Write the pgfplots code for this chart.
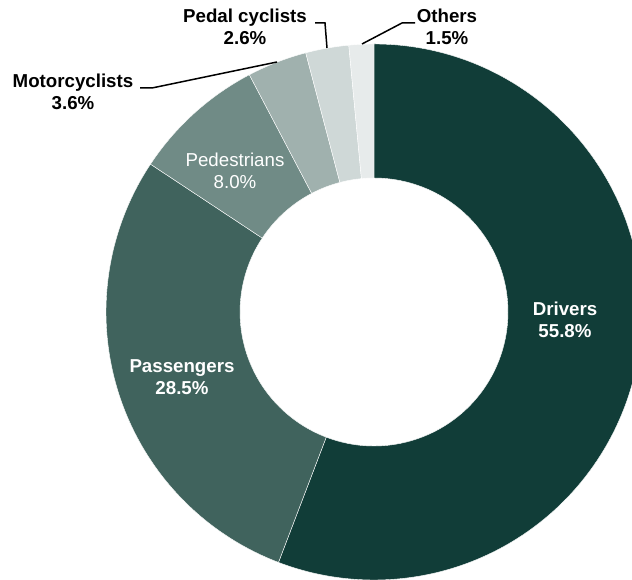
\documentclass[border=0pt]{standalone}
\usepackage{pgfplots}
\pgfplotsset{compat=1.18}
\usepackage{fontspec}
\setmainfont{Liberation Sans}
\usetikzlibrary{calc}
\definecolor{cA}{HTML}{113D38}
\definecolor{cB}{HTML}{40635D}
\definecolor{cC}{HTML}{708B86}
\definecolor{cD}{HTML}{A0B1AE}
\definecolor{cE}{HTML}{CFD8D7}
\definecolor{cF}{HTML}{E7EBEB}
% segment: #1 cumulative start %, #2 cumulative end %, #3 colour
\newcommand{\seg}[3]{%
  \filldraw[#3, draw=white, line width=0.4bp]
   ($(axis cs:374,268)+({90-3.6*#1}:268bp)$)
   arc[start angle={90-3.6*#1}, end angle={90-3.6*#2}, radius=268bp]
   -- ($(axis cs:374,268)+({90-3.6*#2}:134bp)$)
   arc[start angle={90-3.6*#2}, end angle={90-3.6*#1}, radius=134bp]
   -- cycle;}
\newcommand{\lab}[5]{% x, y(baseline first line), line1, line2, style
  \node[anchor=base,#5] at (axis cs:#1,#2) {#3};
  \node[anchor=base,#5] at (axis cs:#1,#2-22) {#4};}
\begin{document}
\begin{tikzpicture}[x=1bp,y=1bp]
\begin{axis}[
  scale only axis, width=632bp, height=580bp,
  xmin=0, xmax=632, ymin=0, ymax=580,
  hide axis, clip=true,
  font=\fontsize{18.7bp}{22bp}\selectfont]
% values (percent): Drivers 55.8, Passengers 28.5, Pedestrians 8.0,
% Motorcyclists 3.6, Pedal cyclists 2.6, Others 1.5
\seg{0}{55.8}{cA}
\seg{55.8}{84.3}{cB}
\seg{84.3}{92.3}{cC}
\seg{92.3}{95.9}{cD}
\seg{95.9}{98.5}{cE}
\seg{98.5}{100}{cF}
% leader lines
\draw[black, line width=1.5bp] (axis cs:140,492) -- (axis cs:152,492) -- (axis cs:277,518);
\draw[black, line width=1.5bp] (axis cs:315,557) -- (axis cs:325,557) -- (axis cs:327,532);
\draw[black, line width=1.5bp] (axis cs:362,536) -- (axis cs:402,557) -- (axis cs:415,557);
% labels
\lab{565}{264}{Drivers}{55.8\%}{white, font=\fontsize{18.7bp}{22bp}\selectfont\bfseries}
\lab{182}{207}{Passengers}{28.5\%}{white, font=\fontsize{18.7bp}{22bp}\selectfont\bfseries}
\lab{235}{413}{Pedestrians}{8.0\%}{white, font=\fontsize{18.7bp}{22bp}\selectfont}
\lab{73}{492}{Motorcyclists}{3.6\%}{black, font=\fontsize{18.7bp}{22bp}\selectfont\bfseries}
\lab{245}{557}{Pedal cyclists}{2.6\%}{black, font=\fontsize{18.7bp}{22bp}\selectfont\bfseries}
\lab{447}{557}{Others}{1.5\%}{black, font=\fontsize{18.7bp}{22bp}\selectfont\bfseries}
\end{axis}
\pgfresetboundingbox
\path[use as bounding box] (current axis.south west) rectangle (current axis.north east);
\end{tikzpicture}
\end{document}
